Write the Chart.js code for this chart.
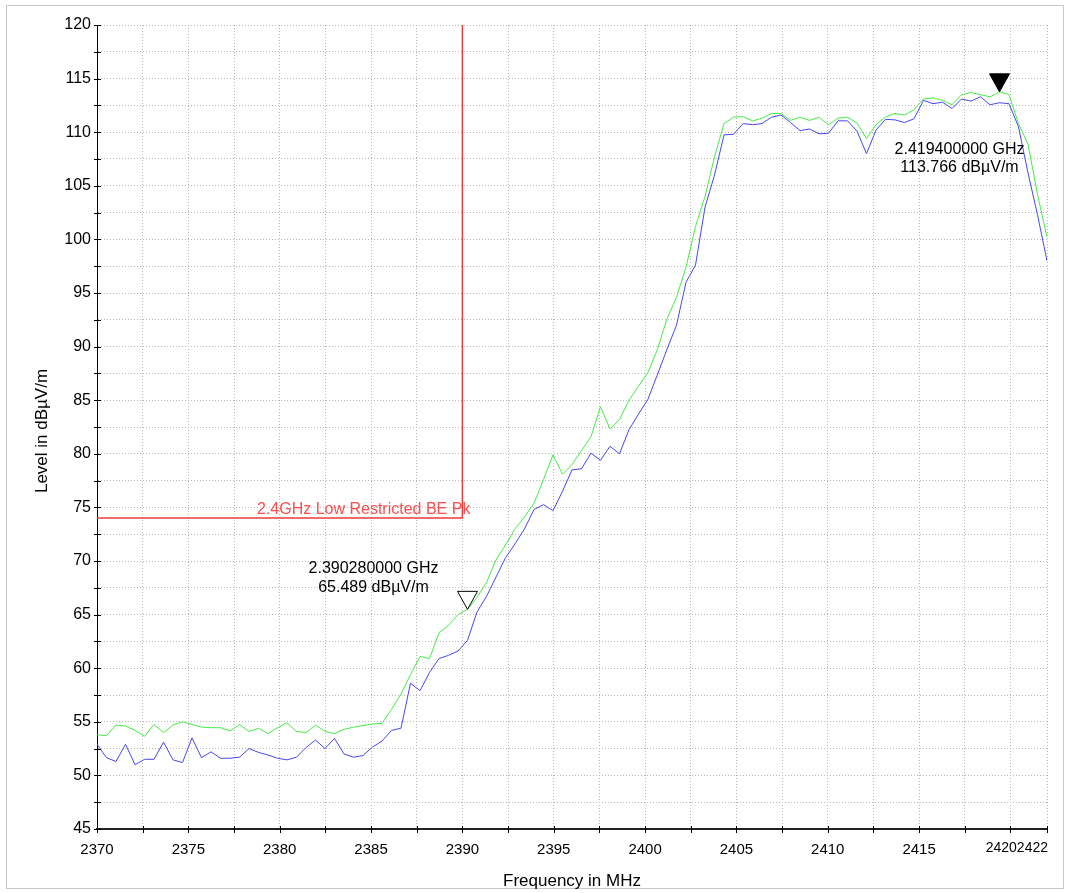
<!DOCTYPE html>
<html>
<head>
<meta charset="utf-8">
<script src="https://cdn.jsdelivr.net/npm/chart.js@4"></script>
<style>
  html, body { margin: 0; padding: 0; background: #fff; }
</style>
</head>
<body>
<canvas id="myChart" width="1070" height="893"></canvas>
<script>
// sweep grid: 101 points, 0.52 MHz apart
const sweepStart = 2370;
const sweepStep = 0.52;

// peak trace (green), dBuV/m
const peakLevels = [
  53.8, 53.7, 54.7, 54.6, 54.2, 53.65, 54.75, 54.0, 54.7, 55.0,
  54.75, 54.5, 54.45, 54.45, 54.15, 54.75, 54.1, 54.4, 53.9, 54.45,
  54.9, 54.1, 54.0, 54.7, 54.1, 53.9, 54.3, 54.5, 54.65, 54.8,
  54.85, 56.15, 57.6, 59.4, 61.1, 60.9, 63.3, 64.0, 65.0, 65.49,
  66.6, 68.0, 70.1, 71.5, 73.0, 74.1, 75.4, 77.6, 79.9, 78.1,
  79.0, 80.3, 81.6, 84.4, 82.3, 83.2, 85.0, 86.3, 87.6, 89.75,
  92.6, 94.6, 97.4, 101.2, 104.0, 107.7, 110.8, 111.4, 111.45, 111.06,
  111.3, 111.75, 111.75, 111.1, 111.4, 111.1, 111.4, 110.7, 111.3, 111.4,
  110.85, 109.4, 110.7, 111.4, 111.75, 111.6, 112.1, 113.1, 113.2, 112.97,
  112.56, 113.5, 113.7, 113.5, 113.3, 113.77, 113.5, 110.8, 108.9, 104.2,
  100.2
];

// second trace (blue), dBuV/m
const blueLevels = [
  52.9, 51.65, 51.3, 52.9, 51.0, 51.5, 51.5, 53.1, 51.45, 51.2,
  53.5, 51.65, 52.2, 51.6, 51.6, 51.7, 52.5, 52.15, 51.9, 51.6,
  51.45, 51.7, 52.6, 53.3, 52.5, 53.45, 52.0, 51.7, 51.85, 52.65,
  53.2, 54.2, 54.4, 58.6, 57.9, 59.6, 60.9, 61.2, 61.6, 62.6,
  65.25, 66.7, 68.5, 70.3, 71.6, 73.0, 74.8, 75.25, 74.7, 76.5,
  78.5, 78.6, 80.06, 79.4, 80.7, 80.0, 82.25, 83.7, 85.1, 87.4,
  89.75, 92.0, 96.0, 97.6, 103.0, 106.0, 109.75, 109.8, 110.8, 110.7,
  110.8, 111.4, 111.6, 110.9, 110.15, 110.3, 109.85, 109.9, 111.06, 111.06,
  110.1, 108.0, 110.2, 111.2, 111.15, 110.9, 111.25, 112.97, 112.66, 112.8,
  112.2, 113.1, 112.9, 113.3, 112.56, 112.75, 112.66, 110.5, 106.2, 102.3,
  98.0
];

// limit line
const limitFreqs = [2370, 2390, 2390];
const limitLevels = [74, 74, 120];
const limitName = "2.4GHz Low Restricted BE Pk";

// markers
const markerFreqs = [2390.28, 2419.4];
const markerLevels = [65.489, 113.766];
const markerLines = [
  ["2.390280000 GHz", "65.489 dB\u00b5V/m"],
  ["2.419400000 GHz", "113.766 dB\u00b5V/m"]
];

// axis ticks (labelled), minor ticks go halfway between
const xTickLabels = [2370, 2375, 2380, 2385, 2390, 2395, 2400, 2405, 2410, 2415, 2420, 2422];
const yTickLabels = [45, 50, 55, 60, 65, 70, 75, 80, 85, 90, 95, 100, 105, 110, 115, 120];

function withMinor(list, step) {
  const out = [];
  list.forEach((v, i) => {
    out.push(v);
    const next = list[i + 1];
    if (next !== undefined && next - v === step) out.push(v + step / 2);
  });
  return out;
}
const xGrid = withMinor(xTickLabels, 5);
const yGrid = withMinor(yTickLabels, 5);
// the last two x labels run together, as in the original plot
const xSqueezed = xTickLabels.slice(-2);

const freqs = peakLevels.map((_, i) => +(sweepStart + i * sweepStep).toFixed(2));
const toPoints = (xs, ys) => xs.map((x, i) => ({ x: x, y: ys[i] }));

const font = "'Liberation Sans', Arial, sans-serif";

const decor = {
  id: "decor",
  beforeDraw(chart) {
    const ctx = chart.ctx;
    ctx.save();
    ctx.fillStyle = "#fff";
    ctx.fillRect(0, 0, chart.width, chart.height);
    ctx.strokeStyle = "#c8c8c8";
    ctx.lineWidth = 1;
    ctx.strokeRect(6.5, 5.5, 1057, 883);
    ctx.restore();
  },
  afterDraw(chart) {
    const ctx = chart.ctx;
    const x = chart.scales.x;
    const y = chart.scales.y;
    const area = chart.chartArea;
    ctx.save();

    // tick marks across the axes
    ctx.strokeStyle = "#000";
    ctx.lineWidth = 1;
    x.ticks.forEach(t => {
      const px = Math.round(x.getPixelForValue(t.value)) + 0.5;
      ctx.beginPath();
      ctx.moveTo(px, area.bottom - 3);
      ctx.lineTo(px, area.bottom + 4);
      ctx.stroke();
    });
    y.ticks.forEach(t => {
      const py = Math.round(y.getPixelForValue(t.value)) + 0.5;
      ctx.beginPath();
      ctx.moveTo(area.left - 3, py);
      ctx.lineTo(area.left + 4, py);
      ctx.stroke();
    });

    // run-together end labels of the x axis
    ctx.fillStyle = "#000";
    ctx.font = "14px " + font;
    ctx.textAlign = "right";
    ctx.textBaseline = "middle";
    ctx.fillText(xSqueezed.join(""), area.right + 1, area.bottom + 19);

    // limit label
    ctx.fillStyle = "#ff4c4c";
    ctx.font = "16px " + font;
    ctx.textAlign = "right";
    ctx.textBaseline = "middle";
    ctx.fillText(limitName, x.getPixelForValue(limitFreqs[1]) + 8, y.getPixelForValue(limitLevels[0]) - 9);

    // markers
    markerFreqs.forEach((f, i) => {
      const px = x.getPixelForValue(f);
      const py = y.getPixelForValue(markerLevels[i]);
      ctx.beginPath();
      ctx.moveTo(px, py);
      ctx.lineTo(px - 10, py - 18);
      ctx.lineTo(px + 10, py - 18);
      ctx.closePath();
      ctx.lineWidth = 1;
      ctx.strokeStyle = "#000";
      ctx.fillStyle = i === 1 ? "#000" : "#fff";
      ctx.fill();
      ctx.stroke();

      ctx.fillStyle = "#000";
      ctx.font = "16px " + font;
      ctx.textAlign = "center";
      ctx.textBaseline = "middle";
      if (i === 0) {
        ctx.fillText(markerLines[i][0], px - 94, py - 41);
        ctx.fillText(markerLines[i][1], px - 94, py - 22);
      } else {
        ctx.fillText(markerLines[i][0], px - 40, py + 58);
        ctx.fillText(markerLines[i][1], px - 40, py + 76);
      }
    });

    // axis titles
    ctx.fillStyle = "#000";
    ctx.font = "17px " + font;
    ctx.textAlign = "center";
    ctx.textBaseline = "middle";
    ctx.fillText("Frequency in MHz", (area.left + area.right) / 2, 881);
    ctx.translate(42, (area.top + area.bottom) / 2 + 4);
    ctx.rotate(-Math.PI / 2);
    ctx.fillText("Level in dB\u00b5V/m", 0, 0);
    ctx.restore();
  }
};

const ctx = document.getElementById("myChart");
new Chart(ctx, {
  type: "line",
  data: {
    datasets: [
      {
        label: "Limit",
        data: toPoints(limitFreqs, limitLevels),
        borderColor: "#ee3b3b",
        borderWidth: 1.5,
        pointRadius: 0,
        tension: 0
      },
      {
        label: "Blue",
        data: toPoints(freqs, blueLevels),
        borderColor: "#4848f4",
        borderWidth: 1,
        pointRadius: 0,
        tension: 0
      },
      {
        label: "Peak",
        data: toPoints(freqs, peakLevels),
        borderColor: "#44ee44",
        borderWidth: 1,
        pointRadius: 0,
        tension: 0
      }
    ]
  },
  options: {
    responsive: false,
    animation: false,
    layout: { padding: { left: 0, top: 25, right: 23, bottom: 0 } },
    plugins: { legend: { display: false }, tooltip: { enabled: false } },
    scales: {
      x: {
        type: "linear",
        min: 2370,
        max: 2422,
        afterBuildTicks: scale => { scale.ticks = xGrid.map(v => ({ value: v })); },
        afterFit: scale => { scale.height = 64; scale.paddingLeft = 0; scale.paddingRight = 0; },
        ticks: {
          autoSkip: false,
          maxRotation: 0,
          padding: 12,
          color: "#000",
          font: { family: font, size: 15 },
          callback: v => (xTickLabels.includes(v) && !xSqueezed.includes(v) ? String(v) : "")
        },
        grid: { color: "#b8b8b8", drawTicks: false, lineWidth: 1 },
        border: { display: true, color: "#222", width: 2, dash: [1, 2] }
      },
      y: {
        min: 45,
        max: 120,
        afterBuildTicks: scale => { scale.ticks = yGrid.map(v => ({ value: v })); },
        afterFit: scale => { scale.width = 97; scale.paddingTop = 0; scale.paddingBottom = 0; },
        ticks: {
          autoSkip: false,
          padding: 6,
          color: "#000",
          font: { family: font, size: 16 },
          callback: v => (yTickLabels.includes(v) ? String(v) : "")
        },
        grid: { color: "#b8b8b8", drawTicks: false, lineWidth: 1 },
        border: { display: true, color: "#000", width: 1, dash: [1, 2] }
      }
    }
  },
  plugins: [decor]
});
</script>
</body>
</html>
